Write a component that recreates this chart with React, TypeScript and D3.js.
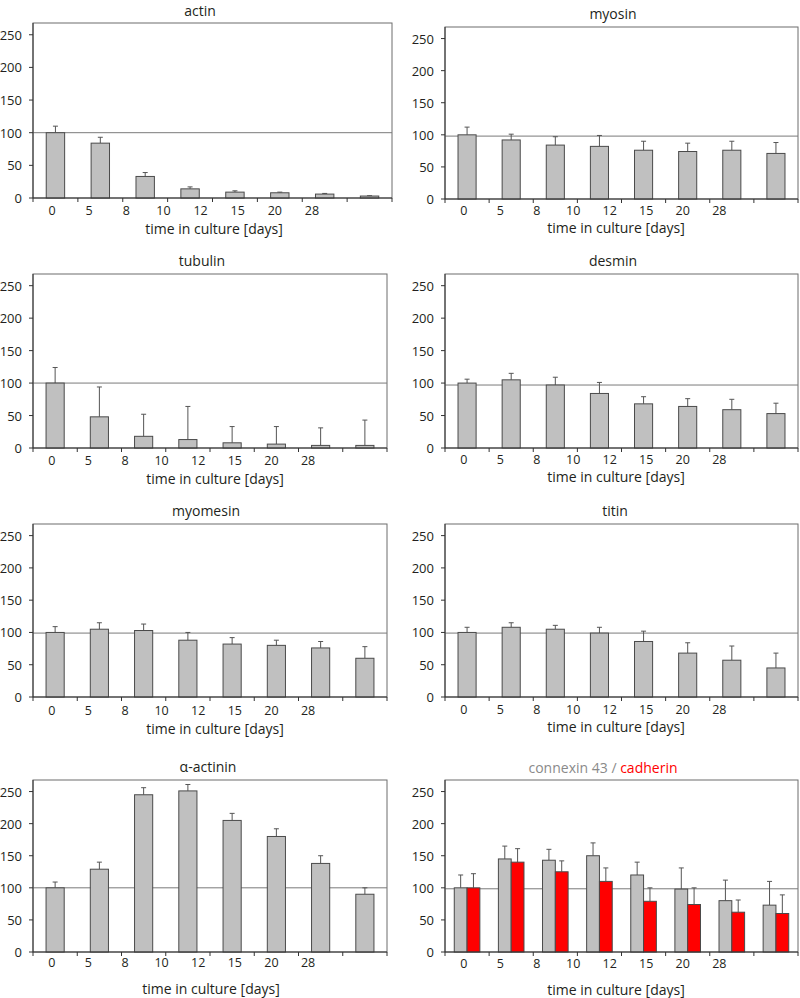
import React from "react";
import * as d3 from "d3";

const days = ["0", "5", "8", "10", "12", "15", "20", "28"];
const yTicks = [0, 50, 100, 150, 200, 250];

const actin = [100, 84, 33, 14, 9, 8, 6, 3];
const actinSd = [10, 9, 6, 3, 2, 1, 1, 0.5];
const myosin = [100, 92, 84, 82, 76, 74, 76, 71];
const myosinSd = [12, 9, 13, 17, 14, 13, 14, 17];
const tubulin = [100, 48, 18, 13, 8, 6, 4, 4];
const tubulinSd = [24, 46, 34, 51, 25, 27, 27, 39];
const desmin = [100, 105, 97, 84, 68, 64, 59, 53];
const desminSd = [6, 10, 12, 17, 11, 12, 16, 16];
const myomesin = [100, 105, 103, 88, 82, 80, 76, 60];
const myomesinSd = [9, 10, 10, 12, 10, 8, 10, 18];
const titin = [100, 108, 105, 99, 86, 68, 57, 45];
const titinSd = [8, 7, 6, 9, 16, 16, 22, 23];
const actinin = [100, 129, 245, 251, 205, 180, 138, 90];
const actininSd = [9, 11, 11, 10, 11, 12, 12, 10];
const connexin = [100, 145, 143, 150, 120, 98, 80, 73];
const connexinSd = [20, 20, 17, 20, 20, 33, 32, 37];
const cadherin = [100, 140, 125, 110, 79, 74, 62, 60];
const cadherinSd = [22, 21, 17, 21, 21, 26, 19, 29];

const refLines = [100, 98, 100, 97, 99, 99, 100, 98.5];

type Series = { values: number[]; sd: number[]; fill: string };
type Panel = { title: string; series: Series[] };

const GRAY = "#c0c0c0";
const RED = "#ff0000";

const panels: Panel[] = [
  { title: "actin", series: [{ values: actin, sd: actinSd, fill: GRAY }] },
  { title: "myosin", series: [{ values: myosin, sd: myosinSd, fill: GRAY }] },
  { title: "tubulin", series: [{ values: tubulin, sd: tubulinSd, fill: GRAY }] },
  { title: "desmin", series: [{ values: desmin, sd: desminSd, fill: GRAY }] },
  { title: "myomesin", series: [{ values: myomesin, sd: myomesinSd, fill: GRAY }] },
  { title: "titin", series: [{ values: titin, sd: titinSd, fill: GRAY }] },
  { title: "α-actinin", series: [{ values: actinin, sd: actininSd, fill: GRAY }] },
  {
    title: "connexin 43 / cadherin",
    series: [
      { values: connexin, sd: connexinSd, fill: GRAY },
      { values: cadherin, sd: cadherinSd, fill: RED },
    ],
  },
];

// layout (pixel geometry of each panel)
const layout = [
  { x0: 33, x1: 392, top: 23, base: 198, titleY: 10, titleX: 200, tickY: 210, xlabY: 228, xlabX: 214 },
  { x0: 445, x1: 798, top: 27, base: 199, titleY: 13, titleX: 613, tickY: 210, xlabY: 227, xlabX: 616 },
  { x0: 33, x1: 387, top: 274, base: 448, titleY: 260, titleX: 202, tickY: 460, xlabY: 478, xlabX: 215 },
  { x0: 445, x1: 798, top: 274, base: 448, titleY: 260, titleX: 613, tickY: 459, xlabY: 476, xlabX: 616 },
  { x0: 33, x1: 387, top: 524, base: 697, titleY: 510, titleX: 206, tickY: 710, xlabY: 728, xlabX: 215 },
  { x0: 445, x1: 798, top: 524, base: 697, titleY: 510, titleX: 615, tickY: 709, xlabY: 726, xlabX: 616 },
  { x0: 33, x1: 387, top: 780, base: 952, titleY: 766, titleX: 208, tickY: 962, xlabY: 988, xlabX: 211 },
  { x0: 445, x1: 798, top: 780, base: 952, titleY: 767, titleX: 603, tickY: 963, xlabY: 989, xlabX: 616 },
];

const FONT = "'Open Sans', 'DejaVu Sans', sans-serif";
const TEXT = "#231f20";

function ChartPanel({ panel, lay, refValue }: { panel: Panel; lay: (typeof layout)[0]; refValue: number }) {
  const { x0, x1, top, base } = lay;
  const idx = d3.range(days.length);
  const x = d3.scaleBand<number>().domain(idx).range([x0, x1]).paddingInner(0).paddingOuter(0);
  const y = d3.scaleLinear().domain([0, 268]).range([base, top]);
  const w = x1 - x0;
  const labelX = d3.scalePoint<string>().domain(days).range([x0 + 0.053 * w, x0 + 0.777 * w]);
  const bw = x.bandwidth();
  const nS = panel.series.length;
  const barW = nS === 1 ? bw * 0.41 : bw * 0.29;
  const groupW = barW * nS;
  const boundaries = idx.map((i) => x(i)!).concat([x1]);

  return (
    <g>
      {nS === 1 ? (
        <text x={lay.titleX} y={lay.titleY} textAnchor="middle" dominantBaseline="central" fontSize={14} fill={TEXT}>
          {panel.title}
        </text>
      ) : (
        <text x={lay.titleX} y={lay.titleY} textAnchor="middle" dominantBaseline="central" fontSize={14}>
          <tspan fill="#8a8a8a">connexin 43 / </tspan>
          <tspan fill={RED}>cadherin</tspan>
        </text>
      )}
      <rect x={x0} y={top} width={w} height={base - top} fill="none" stroke="#6d6d6d" strokeWidth={1} />
      <line x1={x0} x2={x1} y1={y(refValue)} y2={y(refValue)} stroke="#7a7a7a" strokeWidth={1} />
      {panel.series.map((s, si) =>
        s.values.map((v, i) => {
          const cx = x(i)! + bw / 2 - groupW / 2 + si * barW;
          const mid = cx + barW / 2;
          const yt = y(v);
          const ye = y(v + s.sd[i]);
          return (
            <g key={`${si}-${i}`}>
              <line x1={mid} x2={mid} y1={yt} y2={ye} stroke="#555" strokeWidth={1} />
              <line x1={mid - 2.5} x2={mid + 2.5} y1={ye} y2={ye} stroke="#555" strokeWidth={1} />
              <rect x={cx} y={yt} width={barW} height={base - yt} fill={s.fill} stroke="#4a4a4a" strokeWidth={1} />
            </g>
          );
        })
      )}
      <line x1={x0} x2={x0} y1={top} y2={base} stroke="#333" strokeWidth={1} />
      <line x1={x0} x2={x1} y1={base} y2={base} stroke="#333" strokeWidth={1} />
      {yTicks.map((t) => (
        <g key={t}>
          <line x1={x0 - 4} x2={x0} y1={y(t)} y2={y(t)} stroke="#333" strokeWidth={1} />
          <text x={x0 - 11} y={y(t)} textAnchor="end" dominantBaseline="central" fontSize={13} fill={TEXT}>
            {t}
          </text>
        </g>
      ))}
      {boundaries.map((b, i) => (
        <line key={i} x1={b} x2={b} y1={base} y2={base + 4} stroke="#333" strokeWidth={1} />
      ))}
      {days.map((d) => (
        <text key={d} x={labelX(d)} y={lay.tickY} textAnchor="middle" dominantBaseline="central" fontSize={12.5} fill={TEXT}>
          {d}
        </text>
      ))}
      <text x={lay.xlabX} y={lay.xlabY} textAnchor="middle" dominantBaseline="central" fontSize={14} fill={TEXT}>
        time in culture [days]
      </text>
    </g>
  );
}

export default function App() {
  return (
    <svg
      width={800}
      height={998}
      style={{ position: "absolute", left: 0, top: 0, background: "#fff", fontFamily: FONT }}
    >
      {panels.map((p, i) => (
        <ChartPanel key={p.title} panel={p} lay={layout[i]} refValue={refLines[i]} />
      ))}
    </svg>
  );
}
